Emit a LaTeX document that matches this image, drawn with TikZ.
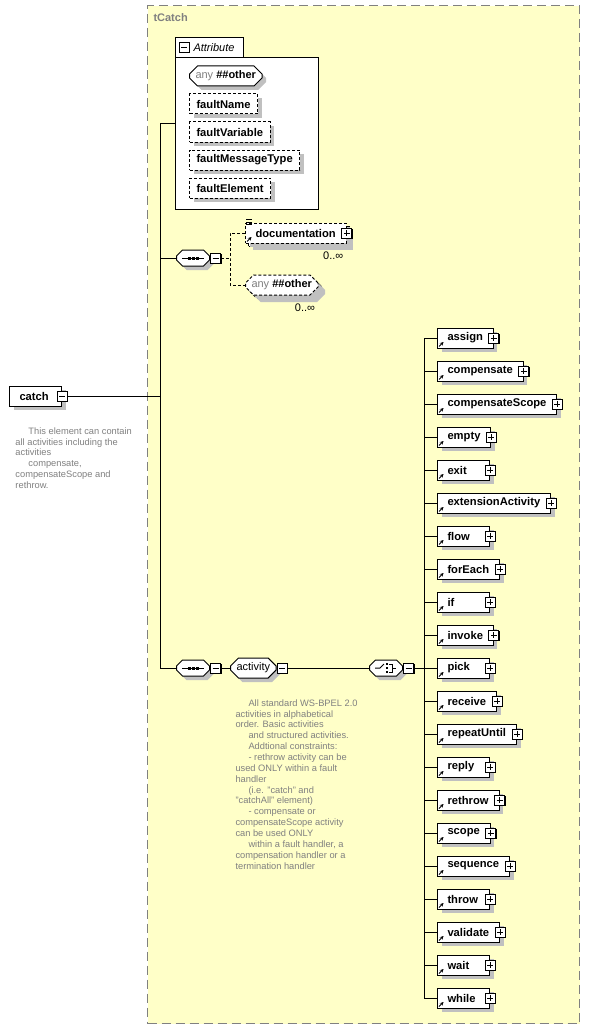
\documentclass[tikz,border=0pt]{standalone}
\usepackage{fontspec}
\setmainfont{Liberation Sans}
\usetikzlibrary{arrows.meta,positioning,calc,shapes.misc,shadows}

\definecolor{typebg}{RGB}{255,255,200}
\definecolor{notegray}{RGB}{128,128,128}
\definecolor{shadowgray}{RGB}{192,192,192}

% element label: fixed left pad, minimum text width, room for the +/- box
\newcommand\elemlabel[1]{\hspace*{10pt}\setbox0\hbox{#1}\ifdim\wd0<31.5pt\hbox to 31.5pt{#1\hfil}\else\box0\fi\hspace*{10.5pt}}

\begin{document}
\begin{tikzpicture}[x=1pt,y=-1pt,line width=1pt,
   font=\fontsize{11}{13}\selectfont,
   shad/.style={drop shadow={shadow xshift=4pt,shadow yshift=-4pt,fill=shadowgray,opacity=1}},
   elem/.style={draw,fill=white,shad,font=\fontsize{11.2}{13}\selectfont\bfseries,anchor=west,minimum height=20pt,inner sep=0pt},
   attr/.style={elem,dash pattern=on 3pt off 2pt,inner xsep=7pt},
   octo/.style={draw,fill=white,shad,chamfered rectangle,chamfered rectangle sep=4pt,text height=8pt,text depth=3pt,inner xsep=2pt,inner ysep=0.5pt,anchor=west},
   grp/.style={octo,minimum width=33pt},
   tiny/.style={draw,fill=white,minimum size=10pt,inner sep=0pt,drop shadow={shadow xshift=1pt,shadow yshift=-1pt,fill=black,opacity=1}},
   plusbox/.style={tiny,path picture={\draw ([yshift=-2pt]path picture bounding box.north) -- ([yshift=2pt]path picture bounding box.south) ([xshift=2pt]path picture bounding box.west) -- ([xshift=-2pt]path picture bounding box.east);}},
   minusbox/.style={tiny,path picture={\draw ([xshift=2pt]path picture bounding box.west) -- ([xshift=-2pt]path picture bounding box.east);}},
   refarrow/.style={-{Stealth[length=3.5pt,width=3.5pt]},line width=1pt},
   note/.style={font=\fontsize{9.3}{10.85}\selectfont,text=notegray,align=left,inner sep=0pt,anchor=north west},
   card/.style={font=\fontsize{11}{13}\selectfont,inner sep=0pt,anchor=north east}]
  \useasboundingbox (0,0) rectangle (590,1030);

  % complex type frame
  \node[draw=notegray,line width=1.3pt,dash pattern=on 9pt off 5pt,fill=typebg,anchor=north west,
        minimum width=432pt,minimum height=1018pt] (tcatch) at (147,5) {};
  \node[anchor=west,text=notegray,font=\fontsize{11}{13}\selectfont\bfseries,inner sep=0pt] (tcatch-lbl) at (153,18) {tCatch};

  % global element
  \node[elem] (catch) at (9,396) {\elemlabel{catch}};
  \node[minusbox] (catch-m) at (catch.east) {};
  \node[note] (catch-note) at (15,427)
     {\hspace*{13pt}This element can contain\\all activities including the\\activities\\
      \hspace*{13pt}compensate,\\compensateScope and\\rethrow.};

  % trunk
  \coordinate (trunk-top) at (160,124);
  \coordinate (trunk-bot) at (160,668);
  \draw (trunk-top) -- (trunk-bot);
  \draw (catch-m.east) -- (catch-m.east -| trunk-top);

  % attributes
  \node[draw,fill=white,anchor=north west,minimum width=143pt,minimum height=152pt,inner sep=0pt] (attrbox) at (175,57) {};
  \node[draw,fill=white,anchor=south west,minimum width=68pt,minimum height=19pt,inner sep=0pt] (attrtab) at (175,57) {};
  \draw[white] ([xshift=1pt]attrtab.south west) -- ([xshift=-1pt]attrtab.south east);
  \node[minusbox] (attrtab-m) at (184,47.5) {};
  \node[anchor=west,inner sep=0pt,font=\fontsize{11}{13}\selectfont\itshape] (attrtab-lbl) at (193,47.5) {Attribute};
  \node[octo] (anyattr) at (189,76) {\textcolor{notegray}{any} \textbf{\#\#other}};
  \node[attr] (faultName) at (189,104) {faultName};
  \node[attr] (faultVariable) at (189,132) {faultVariable};
  \node[attr] (faultMessageType) at (189,160) {faultMessageType};
  \node[attr] (faultElement) at (189,188) {faultElement};
  \draw (trunk-top) -- (trunk-top -| attrbox.west);

  % first sequence
  \node[grp] (seq1) at (176,258) {};
  \node[minusbox,anchor=west] (seq1-m) at (seq1.east) {};
  \begin{scope}[shift={(seq1.center)}]
    \draw (-11,0) -- (11,0);
    \foreach \d in {-4,0,4} \fill (\d-1.5,-1.5) rectangle (\d+1.5,1.5);
  \end{scope}
  \draw (seq1.west -| trunk-top) -- (seq1.west);
  \coordinate (fork) at (230,258);

  \node[elem,dash pattern=on 3pt off 2pt] (doc-back) at (248,236) {\elemlabel{\phantom{documentation}}};
  \node[elem,dash pattern=on 3pt off 2pt] (doc) at (245,233) {\elemlabel{documentation}};
  \node[plusbox] (doc-p) at (doc.east) {};
  \draw[refarrow] ([shift={(2pt,2pt)}]doc.south west) -- ++(4.5pt,4.5pt);
  \foreach \d in {0,2.5,5} \draw[line width=0.8pt] ([shift={(1pt,3pt-\d pt)}]doc.north west) -- ++(6pt,0pt);
  \node[card] (doc-card) at ([xshift=-6pt,yshift=-5pt]doc-back.south east) {0..∞};

  \node[octo,dash pattern=on 3pt off 2pt] (anyel-back) at (248,288) {\phantom{any \textbf{\#\#other}}};
  \node[octo,dash pattern=on 3pt off 2pt] (anyel) at (245,285) {\textcolor{notegray}{any} \textbf{\#\#other}};
  \node[card] (anyel-card) at ([xshift=-6pt,yshift=-5pt]anyel-back.south -| anyel-back.east) {0..∞};

  \draw[dash pattern=on 3pt off 2pt] (seq1-m.east) -- (fork);
  \draw[dash pattern=on 3pt off 2pt] (doc.west) -| (fork) |- (anyel.west);

  % second sequence, activity group, choice
  \node[grp] (seq2) at (176,668) {};
  \node[minusbox,anchor=west] (seq2-m) at (seq2.east) {};
  \begin{scope}[shift={(seq2.center)}]
    \draw (-11,0) -- (11,0);
    \foreach \d in {-4,0,4} \fill (\d-1.5,-1.5) rectangle (\d+1.5,1.5);
  \end{scope}
  \draw (seq2.west -| trunk-bot) -- (seq2.west);

  \node[octo] (activity) at (230,668) {activity};
  \node[minusbox,anchor=west] (activity-m) at (activity.east) {};
  \draw (seq2-m.east) -- (activity.west);
  \node[note] (activity-note) at (235,699)
     {\hspace*{13pt}All standard WS-BPEL 2.0\\activities in alphabetical\\order. Basic activities\\
      \hspace*{13pt}and structured activities.\\\hspace*{13pt}Addtional constraints:\\
      \hspace*{13pt}- rethrow activity can be\\used ONLY within a fault\\handler\\
      \hspace*{13pt}(i.e. "catch" and\\"catchAll" element)\\\hspace*{13pt}- compensate or\\
      compensateScope activity\\can be used ONLY\\\hspace*{13pt}within a fault handler, a\\
      compensation handler or a\\termination handler};

  \node[grp] (choice) at (369,668) {};
  \node[minusbox,anchor=west] (choice-m) at (choice.east) {};
  \begin{scope}[shift={(choice.center)}]
    \draw (-11,0) -- (-6,0) -- (-2,-4);
    \foreach \d in {-4,0,4} \fill (-0.5,\d-1.2) rectangle (2,\d+1.2);
    \draw (3,-4) -- (6,-4) -- (6,4) -- (3,4) (6,0) -- (10,0);
  \end{scope}
  \draw (activity-m.east) -- (choice.west);

  % choice branches
  \coordinate (bar-top) at (424,338);
  \coordinate (bar-bot) at (424,998);
  \draw (bar-top) -- (bar-bot);
  \foreach \n [count=\i from 0] in {assign,compensate,compensateScope,empty,exit,extensionActivity,
      flow,forEach,if,invoke,pick,receive,repeatUntil,reply,rethrow,scope,sequence,throw,validate,wait,while} {
    \node[elem] (\n) at (437,338+33*\i) {\elemlabel{\n}};
    \node[plusbox] (\n-p) at (\n.east) {};
    \draw[refarrow] ([shift={(2pt,2pt)}]\n.south west) -- ++(4.5pt,4.5pt);
    \draw (\n.west -| bar-top) -- (\n.west);
  }
  \draw (choice-m.east) -- (choice-m.east -| bar-top);
\end{tikzpicture}
\end{document}
